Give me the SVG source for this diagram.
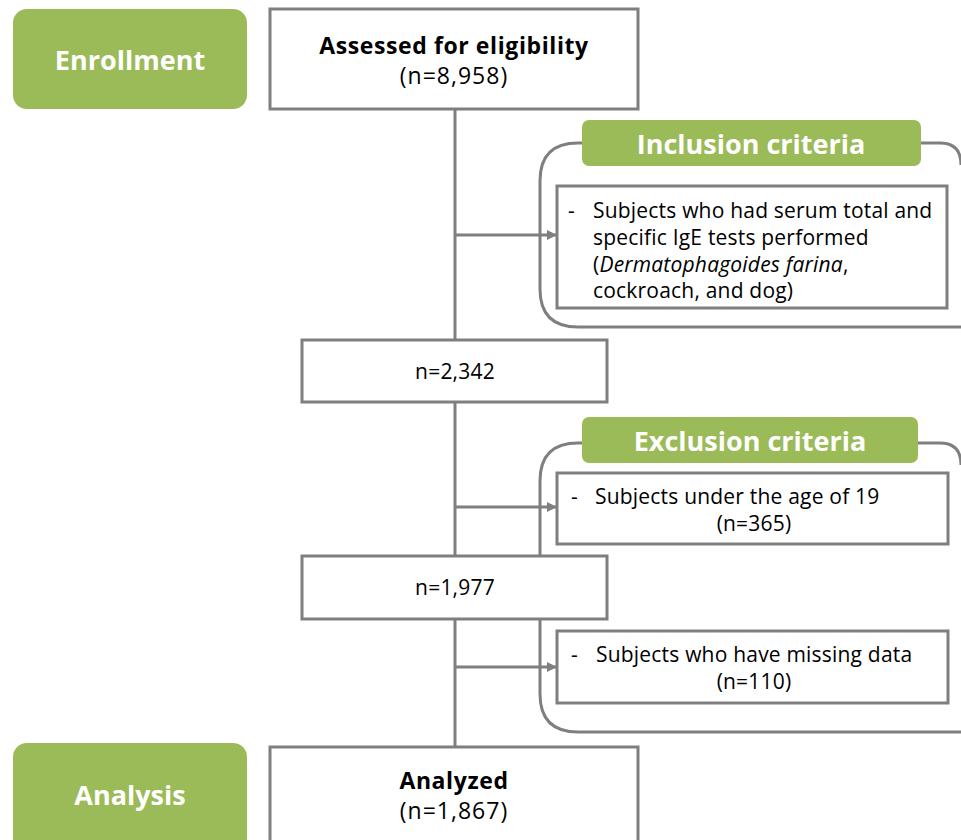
<svg xmlns="http://www.w3.org/2000/svg" width="961" height="840" viewBox="0 0 961 840">
<style>
.box{fill:#fff;stroke:#7f7f7f;stroke-width:3}
.grp{fill:none;stroke:#7f7f7f;stroke-width:3}
.green{fill:#9bbb59}
.lbl{font-family:"Open Sans","Noto Sans",sans-serif;font-weight:bold;fill:#fff;text-anchor:middle}
.t{font-family:"Open Sans","Noto Sans",sans-serif;fill:#000;font-size:21px;letter-spacing:0.2px}
.c{text-anchor:middle}
.h{font-size:23px;letter-spacing:0.6px}
.b{font-weight:bold}
.ln{stroke:#7f7f7f;stroke-width:3;fill:none}
</style>
<defs>
<marker id="ah" markerWidth="10" markerHeight="10" refX="9" refY="5" orient="auto" markerUnits="userSpaceOnUse">
<path d="M0,0 L10,5 L0,10 Z" fill="#7f7f7f"/>
</marker>
</defs>
<g id="connectors">
<line class="ln" x1="455" y1="109" x2="455" y2="340"/>
<line class="ln" x1="455" y1="402" x2="455" y2="556"/>
<line class="ln" x1="455" y1="619" x2="455" y2="747"/>
<line class="ln" x1="455" y1="235" x2="556" y2="235" marker-end="url(#ah)"/>
<line class="ln" x1="455" y1="507" x2="556" y2="507" marker-end="url(#ah)"/>
<line class="ln" x1="455" y1="667" x2="556" y2="667" marker-end="url(#ah)"/>
</g>
<g id="enrollment">
<rect class="green" x="13" y="9" width="234" height="100" rx="14"/>
<text class="lbl" x="130" y="70" font-size="27">Enrollment</text>
</g>
<g id="assessed">
<rect class="box" x="270" y="9" width="368" height="100"/>
<text class="t c b h" x="454" y="54">Assessed for eligibility</text>
<text class="t c h" x="454" y="84" style="letter-spacing:1px">(n=8,958)</text>
</g>
<g id="inclusion">
<path class="grp" d="M582,143 L578,143 Q540,143 540,181 L540,289 Q540,327 578,327 L961,327 M921,143 L940,143 Q961,143 961,165"/>
<rect class="green" x="582" y="120" width="339" height="46" rx="7"/>
<text class="lbl" x="751" y="154" font-size="27">Inclusion criteria</text>
<rect class="box" x="557" y="186" width="390" height="122"/>
<text class="t" x="568" y="218">-</text>
<text class="t" x="593" y="218">Subjects who had serum total and</text>
<text class="t" x="593" y="245">specific IgE tests performed</text>
<text class="t" x="593" y="272">(<tspan font-style="italic">Dermatophagoides farina</tspan>,</text>
<text class="t" x="593" y="298">cockroach, and dog)</text>
</g>
<g id="n2342">
<rect class="box" x="302" y="340" width="305" height="62"/>
<text class="t c" x="455" y="379">n=2,342</text>
</g>
<g id="exclusion">
<path class="grp" d="M582,443 L578,443 Q540,443 540,481 L540,556 M540,619 L540,694 Q540,732 578,732 L961,732 M918,443 L940,443 Q961,443 961,465"/>
<rect class="green" x="582" y="417" width="336" height="46" rx="7"/>
<text class="lbl" x="750" y="451" font-size="27">Exclusion criteria</text>
<rect class="box" x="557" y="473" width="391" height="71"/>
<text class="t" x="571" y="504">-</text>
<text class="t" x="595" y="504">Subjects under the age of 19</text>
<text class="t c" x="754" y="531">(n=365)</text>
<rect class="box" x="557" y="631" width="391" height="72"/>
<text class="t" x="571" y="662">-</text>
<text class="t" x="596" y="662">Subjects who have missing data</text>
<text class="t c" x="754" y="689">(n=110)</text>
</g>
<g id="n1977">
<rect class="box" x="302" y="556" width="305" height="63"/>
<text class="t c" x="455" y="595">n=1,977</text>
</g>
<g id="analysis">
<rect class="green" x="13" y="743" width="234" height="112" rx="14"/>
<text class="lbl" x="130" y="805" font-size="27">Analysis</text>
</g>
<g id="analyzed">
<rect class="box" x="270" y="747" width="368" height="110"/>
<text class="t c b h" x="454" y="789">Analyzed</text>
<text class="t c h" x="454" y="819" style="letter-spacing:1px">(n=1,867)</text>
</g>
</svg>
